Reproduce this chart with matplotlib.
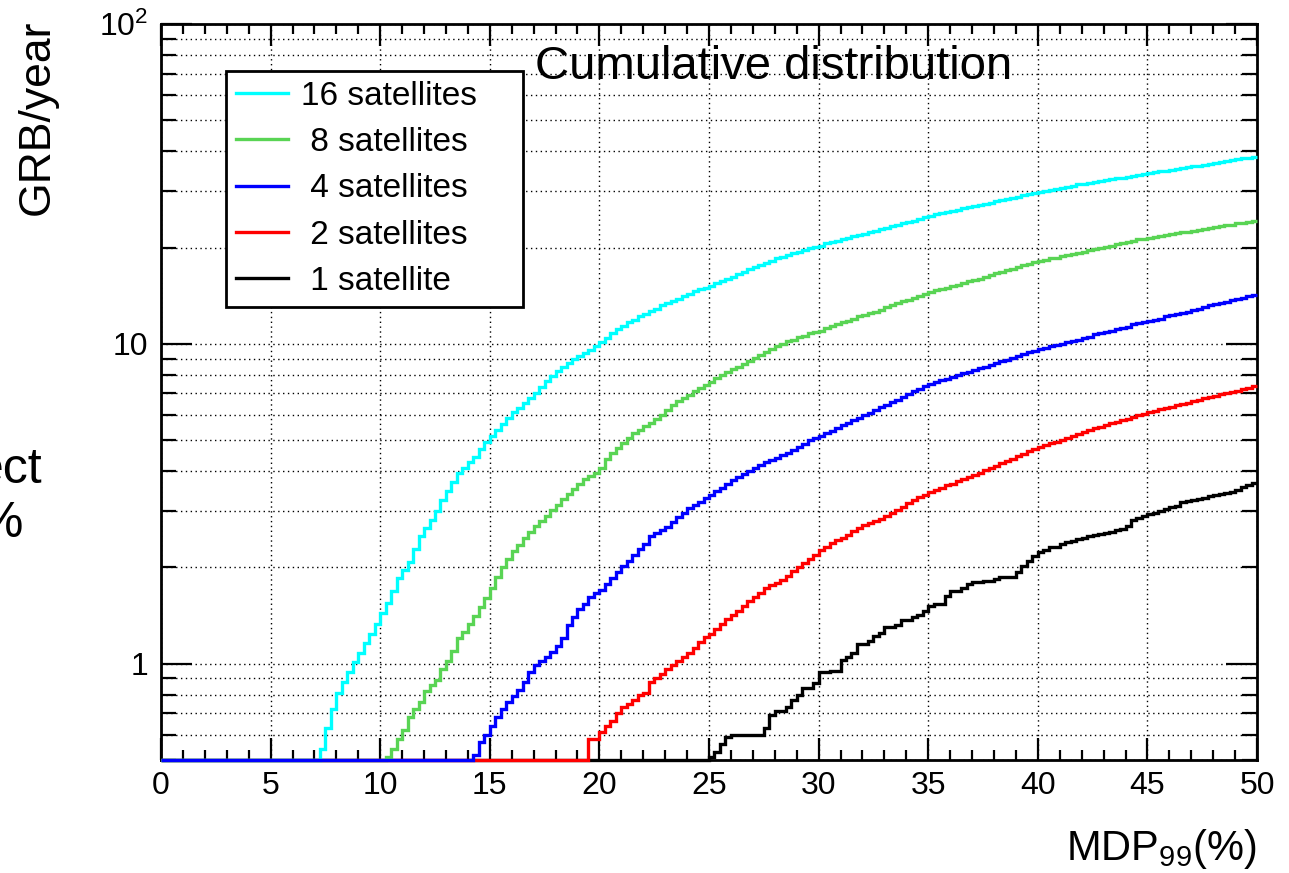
import numpy as np
import matplotlib
matplotlib.use("Agg")
import matplotlib.pyplot as plt
from matplotlib.ticker import FixedLocator, FixedFormatter, MultipleLocator, LogLocator, NullFormatter

plt.rcParams['font.family'] = ['Liberation Sans', 'DejaVu Sans']
plt.rcParams['mathtext.fontset'] = 'custom'
plt.rcParams['mathtext.rm'] = 'Liberation Sans'
plt.rcParams['mathtext.default'] = 'regular'

# Histogramm: 200 Bins von 0 bis 50 (MDP99 in %)
mdp_edges = np.linspace(0, 50, 201)

# kumulierte GRB/year pro Bin (0 = leer)
sat16 = [0.0] * 29 + [
    0.54,
    0.63, 0.72, 0.81, 0.88, 0.94, 1.01, 1.08, 1.16, 1.24, 1.33,
    1.44, 1.55, 1.69, 1.85, 1.97, 2.08, 2.28, 2.50, 2.65, 2.82,
    3.01, 3.24, 3.48, 3.71, 3.94, 4.09, 4.26, 4.43, 4.68, 4.94,
    5.15, 5.37, 5.61, 5.85, 6.11, 6.32, 6.53, 6.75, 7.01, 7.33,
    7.66, 7.96, 8.20, 8.45, 8.73, 8.95, 9.14, 9.35, 9.59, 9.82,
    10.1, 10.4, 10.8, 11.1, 11.4, 11.7, 11.9, 12.2, 12.4, 12.7,
    12.9, 13.2, 13.4, 13.6, 13.8, 14.1, 14.3, 14.6, 14.8, 15.0,
    15.2, 15.5, 15.7, 16.0, 16.2, 16.5, 16.8, 17.1, 17.4, 17.7,
    17.9, 18.2, 18.5, 18.7, 19.0, 19.2, 19.4, 19.6, 19.9, 20.1,
    20.3, 20.6, 20.8, 21.0, 21.2, 21.5, 21.7, 21.9, 22.1, 22.4,
    22.6, 22.9, 23.1, 23.3, 23.6, 23.8, 24.1, 24.3, 24.6, 24.9,
    25.1, 25.4, 25.6, 25.8, 26.0, 26.2, 26.5, 26.7, 26.9, 27.2,
    27.4, 27.6, 27.9, 28.1, 28.4, 28.6, 28.8, 29.1, 29.4, 29.6,
    29.9, 30.1, 30.3, 30.5, 30.8, 31.0, 31.2, 31.5, 31.7, 31.9,
    32.1, 32.3, 32.5, 32.7, 32.9, 33.1, 33.3, 33.6, 33.7, 34.0,
    34.2, 34.4, 34.6, 34.8, 35.0, 35.2, 35.5, 35.6, 35.9, 36.1,
    36.3, 36.6, 36.8, 37.0, 37.2, 37.5, 37.8, 38.0, 38.2, 38.5]

sat8 = [0.0] * 41 + [
    0.51, 0.54, 0.58, 0.62, 0.68, 0.72, 0.76, 0.82, 0.86,
    0.89, 0.96, 1.02, 1.10, 1.20, 1.26, 1.33, 1.41, 1.50, 1.60,
    1.73, 1.87, 2.00, 2.12, 2.25, 2.35, 2.47, 2.58, 2.69, 2.79,
    2.90, 3.02, 3.14, 3.27, 3.39, 3.52, 3.64, 3.77, 3.87, 3.96,
    4.09, 4.37, 4.57, 4.73, 4.90, 5.07, 5.25, 5.38, 5.52, 5.66,
    5.81, 6.01, 6.22, 6.44, 6.61, 6.76, 6.93, 7.10, 7.26, 7.43,
    7.60, 7.80, 7.98, 8.15, 8.32, 8.47, 8.67, 8.85, 9.06, 9.25,
    9.44, 9.64, 9.84, 10.0, 10.2, 10.3, 10.5, 10.6, 10.8, 10.9,
    11.0, 11.2, 11.4, 11.5, 11.7, 11.8, 12.0, 12.2, 12.3, 12.5,
    12.6, 12.8, 13.0, 13.2, 13.4, 13.6, 13.7, 13.9, 14.1, 14.3,
    14.5, 14.7, 14.8, 15.0, 15.2, 15.3, 15.5, 15.7, 15.8, 16.0,
    16.2, 16.4, 16.6, 16.8, 17.0, 17.2, 17.4, 17.6, 17.8, 18.0,
    18.2, 18.3, 18.5, 18.6, 18.8, 18.9, 19.1, 19.3, 19.4, 19.6,
    19.8, 20.0, 20.1, 20.3, 20.5, 20.6, 20.8, 21.0, 21.2, 21.3,
    21.5, 21.6, 21.8, 21.9, 22.0, 22.2, 22.3, 22.4, 22.6, 22.7,
    22.9, 23.0, 23.2, 23.3, 23.5, 23.6, 23.8, 23.9, 24.1, 24.3]

sat4 = [0.0] * 57 + [
    0.52, 0.57, 0.60,
    0.64, 0.68, 0.72, 0.76, 0.79, 0.83, 0.88, 0.94, 0.99, 1.02,
    1.05, 1.09, 1.14, 1.20, 1.32, 1.40, 1.48, 1.54, 1.62, 1.66,
    1.70, 1.77, 1.86, 1.94, 2.02, 2.10, 2.19, 2.28, 2.37, 2.50,
    2.56, 2.62, 2.67, 2.77, 2.88, 2.97, 3.06, 3.13, 3.21, 3.30,
    3.38, 3.46, 3.54, 3.65, 3.76, 3.84, 3.92, 4.00, 4.09, 4.18,
    4.26, 4.33, 4.41, 4.49, 4.57, 4.66, 4.77, 4.88, 4.99, 5.08,
    5.15, 5.25, 5.35, 5.44, 5.56, 5.67, 5.77, 5.87, 5.98, 6.10,
    6.22, 6.34, 6.46, 6.58, 6.70, 6.84, 6.97, 7.10, 7.23, 7.36,
    7.50, 7.59, 7.69, 7.78, 7.88, 7.98, 8.09, 8.18, 8.28, 8.39,
    8.49, 8.61, 8.71, 8.83, 8.93, 9.06, 9.16, 9.27, 9.40, 9.51,
    9.62, 9.72, 9.82, 9.93, 10.0, 10.1, 10.2, 10.3, 10.4, 10.5,
    10.7, 10.8, 10.9, 11.0, 11.1, 11.2, 11.3, 11.5, 11.6, 11.7,
    11.8, 11.9, 12.0, 12.2, 12.3, 12.4, 12.5, 12.6, 12.8, 12.9,
    13.0, 13.2, 13.3, 13.4, 13.5, 13.7, 13.8, 13.9, 14.1, 14.2]

sat2 = [0.0] * 78 + [
    0.58, 0.58,
    0.61, 0.64, 0.66, 0.70, 0.73, 0.75, 0.77, 0.80, 0.81, 0.88,
    0.90, 0.93, 0.96, 0.99, 1.02, 1.05, 1.08, 1.12, 1.17, 1.21,
    1.24, 1.28, 1.33, 1.38, 1.42, 1.46, 1.51, 1.57, 1.62, 1.67,
    1.73, 1.76, 1.79, 1.83, 1.88, 1.95, 2.01, 2.07, 2.13, 2.19,
    2.26, 2.32, 2.38, 2.43, 2.48, 2.53, 2.60, 2.66, 2.72, 2.76,
    2.80, 2.84, 2.90, 2.96, 3.03, 3.10, 3.17, 3.24, 3.31, 3.38,
    3.44, 3.50, 3.55, 3.61, 3.66, 3.72, 3.78, 3.83, 3.89, 3.95,
    4.02, 4.08, 4.16, 4.23, 4.31, 4.38, 4.46, 4.53, 4.61, 4.69,
    4.76, 4.83, 4.90, 4.95, 5.02, 5.09, 5.16, 5.24, 5.30, 5.37,
    5.45, 5.51, 5.57, 5.64, 5.70, 5.77, 5.83, 5.90, 5.98, 6.05,
    6.11, 6.17, 6.24, 6.30, 6.35, 6.43, 6.49, 6.55, 6.61, 6.68,
    6.75, 6.81, 6.89, 6.95, 7.02, 7.08, 7.14, 7.23, 7.29, 7.36]

sat1 = [0.0] * 100 + [
    0.51, 0.53, 0.56, 0.59, 0.60, 0.60, 0.60, 0.60, 0.60, 0.60,
    0.63, 0.69, 0.71, 0.71, 0.735, 0.77, 0.80, 0.84, 0.84, 0.87,
    0.94, 0.94, 0.95, 0.95, 1.03, 1.05, 1.08, 1.15, 1.15, 1.18,
    1.22, 1.25, 1.30, 1.30, 1.32, 1.37, 1.37, 1.40, 1.42, 1.46,
    1.51, 1.54, 1.54, 1.63, 1.69, 1.69, 1.73, 1.78, 1.80, 1.80,
    1.82, 1.82, 1.84, 1.87, 1.87, 1.87, 1.94, 2.02, 2.09, 2.17,
    2.23, 2.27, 2.32, 2.32, 2.37, 2.40, 2.42, 2.45, 2.47, 2.50,
    2.52, 2.55, 2.57, 2.59, 2.62, 2.64, 2.70, 2.82, 2.86, 2.90,
    2.94, 2.97, 3.00, 3.04, 3.08, 3.12, 3.20, 3.22, 3.24, 3.27,
    3.30, 3.35, 3.37, 3.40, 3.43, 3.45, 3.50, 3.56, 3.62, 3.68]

labels = ['16 satellites', ' 8 satellites', ' 4 satellites', ' 2 satellites', ' 1 satellite']
colors = ['#00ffff', '#59d454', '#0000ff', '#ff0000', '#000000']

y_min = 0.5

fig = plt.figure(figsize=(12.89, 8.73), dpi=100)
ax = fig.add_axes([0.1249, 0.1294, 0.8503, 0.8431])
ax.set_yscale('log')

series = {'16': sat16, '8': sat8, '4': sat4, '2': sat2, '1': sat1}
for vals in series.values():
    assert len(vals) == 200

# Zeichenreihenfolge wie im Original (leere Bins liegen unten auf der Achse)
handles = {}
for key in ['1', '2', '16', '8', '4']:
    i = list(series.keys()).index(key)
    vals = np.maximum(np.array(series[key]), y_min)
    h = ax.stairs(vals, mdp_edges, baseline=None, color=colors[i], lw=2.4, clip_on=False, zorder=3)
    handles[key] = h

ax.set_xlim(0, 50)
ax.set_ylim(y_min, 100)

# Achsen im ROOT-Stil
ax.xaxis.set_major_locator(MultipleLocator(5))
ax.xaxis.set_minor_locator(MultipleLocator(1))
ax.yaxis.set_major_locator(FixedLocator([1, 10, 100]))
ax.yaxis.set_major_formatter(FixedFormatter(['1', '10', '10$^{2}$']))
ax.yaxis.set_minor_locator(LogLocator(base=10, subs=np.arange(2, 10)))
ax.yaxis.set_minor_formatter(NullFormatter())

ax.tick_params(which='both', direction='in', top=True, right=True, width=1.6, labelsize=23)
ax.tick_params(axis='x', which='major', length=16, pad=8)
ax.tick_params(axis='x', which='minor', length=7)
ax.tick_params(axis='y', which='major', length=22, pad=9)
ax.tick_params(axis='y', which='minor', length=11)
for sp in ax.spines.values():
    sp.set_linewidth(2)

ax.grid(True, which='major', axis='x', color='black', linestyle=(0, (1, 2.5)), lw=1)
ax.grid(True, which='both', axis='y', color='black', linestyle=(0, (1, 2.5)), lw=1)
ax.set_axisbelow(True)

leg = ax.legend([handles[k] for k in ['16', '8', '4', '2', '1']], labels,
                loc='upper left', bbox_to_anchor=(0.0593, 0.6264, 0.271, 0.31),
                mode='expand', borderaxespad=0, fontsize=24, handlelength=1.55,
                handletextpad=0.4, labelspacing=0.46, borderpad=0.3,
                fancybox=False, edgecolor='black', framealpha=1)
leg.get_frame().set_linewidth(2)
leg.set_zorder(5)

ax.text(0.341, 0.925, 'Cumulative distribution', transform=ax.transAxes,
        fontsize=34, va='baseline', ha='left', zorder=6)

# Achsentitel
ax.text(1.0, -0.136, 'MDP$_{99}$(%)', transform=ax.transAxes, fontsize=30,
        ha='right', va='baseline')
fig.text(17 / 1289, 1 - 20 / 873, 'GRB/year', rotation=90, fontsize=32,
         ha='left', va='top')

# abgeschnittener Text am linken Rand (wie im Original)
side_font = ['Liberation Sans Narrow', 'Liberation Sans', 'DejaVu Sans']
fig.text(43 / 1289, 1 - 483 / 873, 'ect', fontsize=36, family=side_font, ha='right', va='baseline')
fig.text(23 / 1289, 1 - 537 / 873, '%', fontsize=36, family=side_font, ha='right', va='baseline')

fig.savefig('out.png', dpi=100)
